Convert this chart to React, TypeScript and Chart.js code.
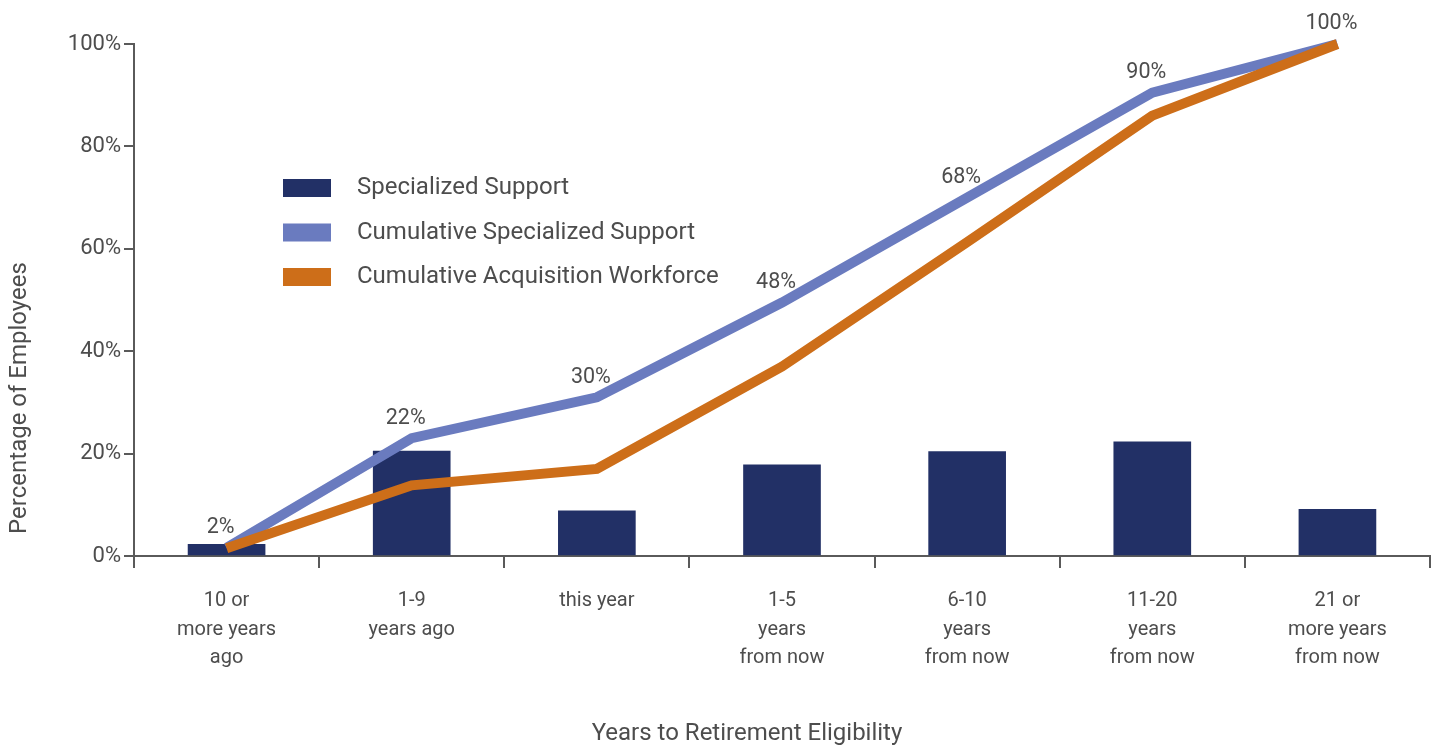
import React, { useEffect, useRef } from "react";
import { Chart, registerables } from "chart.js";

Chart.register(...registerables);

const categories = [
  ["10 or", "more years", "ago"],
  ["1-9", "years ago"],
  ["this year"],
  ["1-5", "years", "from now"],
  ["6-10", "years", "from now"],
  ["11-20", "years", "from now"],
  ["21 or", "more years", "from now"],
];
const specializedSupport = [2.3, 20.5, 8.8, 17.8, 20.4, 22.3, 9.1];
const cumulativeSpecialized = [1.6, 23, 31, 49.5, 70, 90.5, 100];
const cumulativeAcquisition = [1.5, 13.8, 17, 37, 61.3, 86, 100];
const cumulativeLabels = ["2%", "22%", "30%", "48%", "68%", "90%", "100%"];
const yMin = 0;
const yMax = 100;
const yStep = 20;

const seriesNames = [
  "Specialized Support",
  "Cumulative Specialized Support",
  "Cumulative Acquisition Workforce",
];
const xTitle = "Years to Retirement Eligibility";
const yTitle = "Percentage of Employees";

const NAVY = "#223066";
const BLUE = "#6a7bbf";
const ORANGE = "#cd6e19";
const TEXT = "#4d4d4d";
const AXIS = "#5a5a5a";
const FAMILY = "Roboto, 'Noto Sans', sans-serif";

const overlay = {
  id: "overlay",
  afterDatasetsDraw(chart: any) {
    const ctx = chart.ctx;
    const area = chart.chartArea;
    ctx.save();
    // data labels above cumulative specialized line
    const meta = chart.getDatasetMeta(1);
    ctx.fillStyle = TEXT;
    ctx.font = `21.5px ${FAMILY}`;
    ctx.textAlign = "center";
    ctx.textBaseline = "middle";
    meta.data.forEach((pt: any, i: number) => {
      ctx.fillText(cumulativeLabels[i], pt.x - 6, pt.y - 20);
    });

    // legend
    const lx = area.left + 149;
    const ly = area.top + 144;
    ctx.font = `24px ${FAMILY}`;
    ctx.textAlign = "left";
    chart.data.datasets.forEach((ds: any, i: number) => {
      const cy = ly + i * 44.5;
      ctx.fillStyle = ds.type === "line" ? ds.borderColor : ds.backgroundColor;
      ctx.fillRect(lx, cy - 9, 48, 18);
      ctx.fillStyle = TEXT;
      ctx.fillText(ds.label, lx + 74, cy);
    });

    // axis titles
    ctx.font = `24px ${FAMILY}`;
    ctx.textAlign = "center";
    ctx.fillText(xTitle, area.left + 613, area.bottom + 178);
    ctx.translate(20, area.bottom - 158);
    ctx.rotate(-Math.PI / 2);
    ctx.fillText(yTitle, 0, 0);
    ctx.restore();
  },
};

export default function App() {
  const ref = useRef<HTMLCanvasElement | null>(null);
  useEffect(() => {
    document.body.style.overflow = "hidden";
    const canvas = ref.current!;
    const chart = new Chart(canvas, {
      type: "bar",
      data: {
        labels: categories as any,
        datasets: [
          {
            type: "bar",
            label: seriesNames[0],
            data: specializedSupport,
            backgroundColor: NAVY,
            barThickness: 77,
            order: 2,
          } as any,
          {
            type: "line",
            label: seriesNames[1],
            data: cumulativeSpecialized,
            borderColor: BLUE,
            backgroundColor: BLUE,
            borderWidth: 10,
            pointRadius: 0,
            tension: 0,
            borderJoinStyle: "miter",
            borderCapStyle: "butt",
            clip: false,
            order: 1,
          },
          {
            type: "line",
            label: seriesNames[2],
            data: cumulativeAcquisition,
            borderColor: ORANGE,
            backgroundColor: ORANGE,
            borderWidth: 10,
            pointRadius: 0,
            tension: 0,
            borderJoinStyle: "miter",
            borderCapStyle: "butt",
            clip: false,
            order: 0,
          },
        ],
      },
      options: {
        animation: false,
        responsive: false,
        maintainAspectRatio: false,
        layout: { padding: { top: 44, right: 17, left: 0, bottom: 0 } },
        plugins: {
          legend: { display: false },
          tooltip: { enabled: false },
          title: { display: false },
        },
        scales: {
          x: {
            offset: true,
            grid: {
              display: true,
              drawOnChartArea: false,
              drawTicks: true,
              tickLength: 12,
              color: AXIS,
              lineWidth: 2,
              offset: true,
            },
            border: { display: true, color: AXIS, width: 2 },
            ticks: {
              color: TEXT,
              font: { family: FAMILY, size: 20, lineHeight: 1.42 },
              padding: 19,
              maxRotation: 0,
              autoSkip: false,
            },
            afterFit: (s: any) => {
              s.height = 192;
            },
          },
          y: {
            min: yMin,
            max: yMax,
            ticks: {
              stepSize: yStep,
              callback: (v: any) => v + "%",
              color: TEXT,
              font: { family: FAMILY, size: 22 },
              padding: 3,
            },
            grid: {
              display: true,
              drawOnChartArea: false,
              drawTicks: true,
              tickLength: 10,
              color: AXIS,
              lineWidth: 2,
            },
            border: { display: true, color: AXIS, width: 2 },
            afterFit: (s: any) => {
              s.width = 134;
            },
          },
        },
      },
      plugins: [overlay],
    });
    return () => chart.destroy();
  }, []);
  return (
    <div style={{ position: "absolute", left: 0, top: 0, width: 1447, height: 748, background: "#fff" }}>
      <canvas ref={ref} width={1447} height={748} style={{ width: 1447, height: 748, display: "block" }} />
    </div>
  );
}
